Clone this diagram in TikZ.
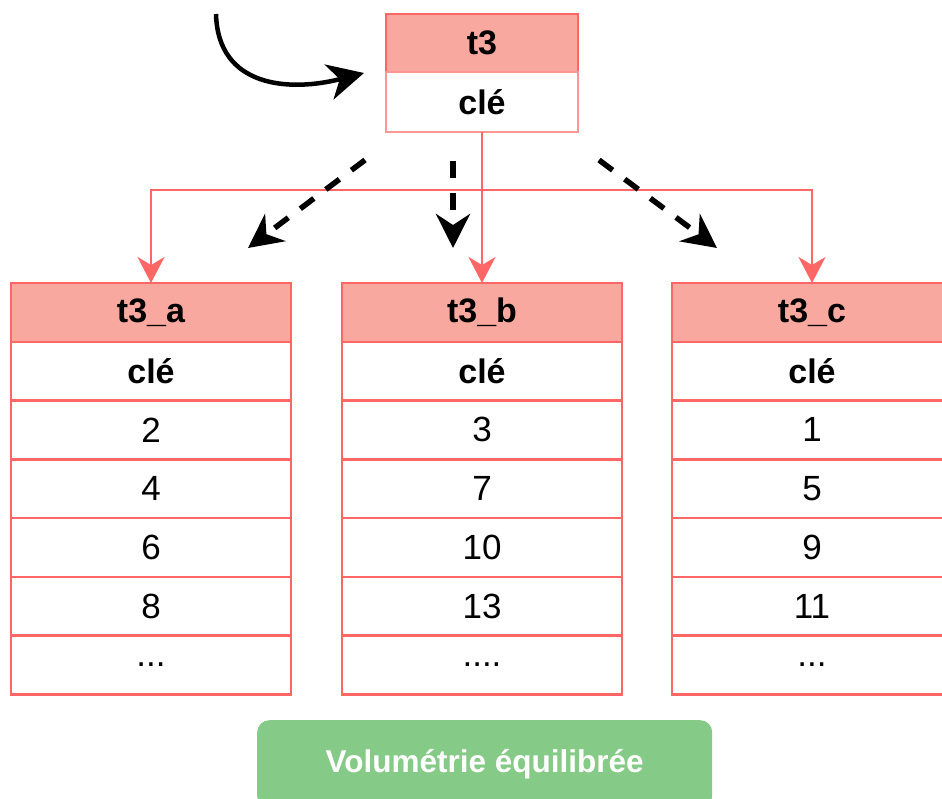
\documentclass[tikz,border=0pt]{standalone}
\usepackage{fontspec}
\setmainfont{Liberation Sans}
\usetikzlibrary{arrows.meta,positioning}
\definecolor{tred}{RGB}{255,102,102}
\definecolor{tlred}{RGB}{255,150,150}
\definecolor{tfill}{RGB}{248,168,158}
\definecolor{tgreen}{RGB}{134,202,135}
\tikzset{
  hdr/.style={draw=tred, fill=tfill, line width=2.5pt, outer sep=0pt, minimum width=280pt, minimum height=58.75pt, inner sep=0pt, anchor=north west, font=\fontsize{34}{40}\selectfont\bfseries},
  keycell/.style={draw=tred, fill=white, line width=2.5pt, outer sep=0pt, minimum width=280pt, minimum height=58.75pt, inner sep=0pt, font=\fontsize{34}{40}\selectfont\bfseries},
  valcell/.style={draw=tred, fill=white, line width=2.5pt, outer sep=0pt, minimum width=280pt, minimum height=58.75pt, inner sep=0pt, font=\fontsize{35}{40}\selectfont},
  redarrow/.style={draw=tred, line width=2pt, -{Stealth[length=26pt,width=27pt,inset=8pt]}},
  blackdash/.style={draw=black, line width=5.5pt, dash pattern=on 17pt off 15pt, -{Stealth[length=34pt,width=34pt,inset=11pt]}},
  blackcurve/.style={draw=black, line width=4.5pt, -{Stealth[length=36pt,width=36pt,inset=11pt]}},
  greenbox/.style={fill=tgreen, rounded corners=12pt, minimum width=455pt, minimum height=88pt, inner sep=0pt, text=white, font=\fontsize{31.5}{36}\selectfont\bfseries}
}
\newcommand\mktable[8]{%
  \node[hdr] (#1h) at (#2,283) {#3};
  \node[keycell, below=0pt of #1h] (#1k) {clé};
  \node[valcell, below=0pt of #1k] (#1r1) {#4};
  \node[valcell, below=0pt of #1r1] (#1r2) {#5};
  \node[valcell, below=0pt of #1r2] (#1r3) {#6};
  \node[valcell, below=0pt of #1r3] (#1r4) {#7};
  \node[valcell, below=0pt of #1r4] (#1r5) {#8};
}
\begin{document}
\begin{tikzpicture}[x=1pt,y=-1pt]
\useasboundingbox (0,0) rectangle (942,798);
% top table t3
\node[draw=tred, fill=tfill, line width=2.5pt, outer sep=0pt, minimum width=192pt, minimum height=58pt, inner sep=0pt, anchor=north west, font=\fontsize{34}{40}\selectfont\bfseries] (t3h) at (386,14) {t3};
\node[draw=tlred, fill=white, line width=1.5pt, outer sep=0pt, minimum width=192pt, minimum height=60pt, inner sep=0pt, below=0pt of t3h, font=\fontsize{34}{40}\selectfont\bfseries] (t3k) {clé};
% three tables
\mktable{a}{11}{t3\_a}{2}{4}{6}{8}{...}
\mktable{b}{342}{t3\_b}{3}{7}{10}{13}{....}
\mktable{c}{672}{t3\_c}{1}{5}{9}{11}{...}
% red connectors
\coordinate (split) at (482,190);
\draw[redarrow] (t3k.south) -- (bh.north);
\draw[redarrow] (t3k.south) -- (t3k.south |- split) -| (ah.north);
\draw[redarrow] (t3k.south) -- (t3k.south |- split) -| (ch.north);
% dashed black arrows
\coordinate (d1s) at (365,160); \coordinate (d1e) at (248,248);
\coordinate (d2s) at (453,161); \coordinate (d2e) at (453,248);
\coordinate (d3s) at (599,160); \coordinate (d3e) at (717,248);
\draw[blackdash] (d1s) -- (d1e);
\draw[blackdash] (d2s) -- (d2e);
\draw[blackdash] (d3s) -- (d3e);
% curved arrow
\coordinate (c0) at (216,14);
\coordinate (c1) at (364,73);
\draw[blackcurve] (c0) .. controls (218,88) and (290,92) .. (c1);
% green label
\node[greenbox, anchor=north west] (vol) at (257,720) {Volumétrie équilibrée};
\end{tikzpicture}
\end{document}
